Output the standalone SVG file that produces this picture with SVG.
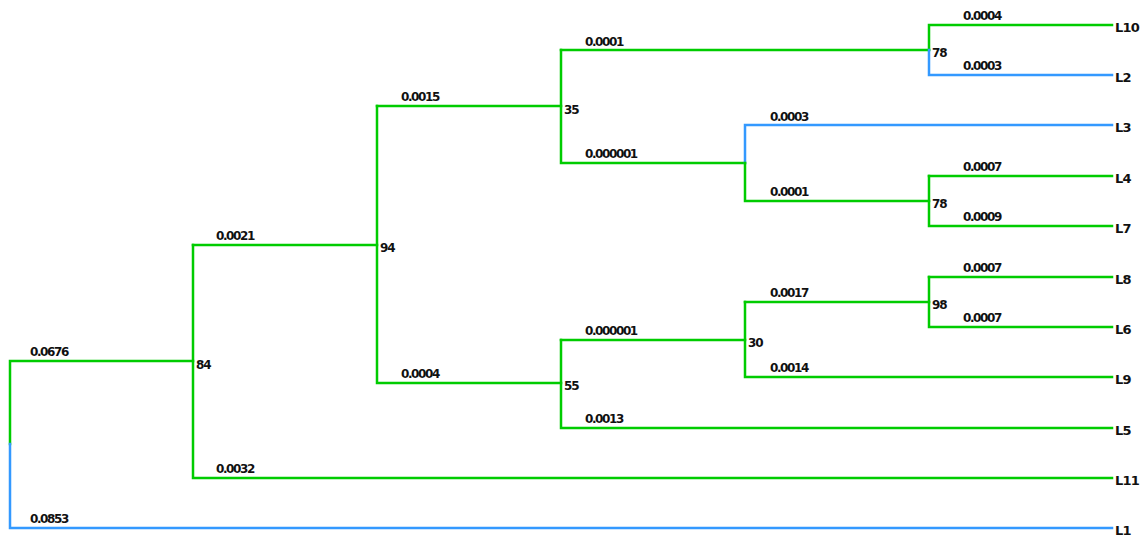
<svg xmlns="http://www.w3.org/2000/svg" width="1144" height="538" viewBox="0 0 1144 538">
<style>
.g{stroke:#00cc00;stroke-width:2.5;fill:none;stroke-linecap:square}
.b{stroke:#3399ff;stroke-width:2.5;fill:none;stroke-linecap:square}
text{font-family:"DejaVu Sans",sans-serif;font-weight:bold;fill:#111}
.bl{font-size:12px;letter-spacing:-1.4px}
.sp{font-size:12px;letter-spacing:-1px}
.lf{font-size:13px;letter-spacing:-0.8px}
</style>
<rect width="1144" height="538" fill="#fff"/>
<g id="connectors">
<!-- root -->
<path class="g" d="M10,444 V361 H193"/>
<path class="b" d="M10,444 V528 H1112"/>
<!-- node 84 -->
<path class="g" d="M193,245 V478 H1112"/>
<path class="g" d="M193,245 H377"/>
<!-- node 94 -->
<path class="g" d="M377,106 V383 H561"/>
<path class="g" d="M377,106 H561"/>
<!-- node 35 -->
<path class="g" d="M561,50 V163 H745"/>
<path class="g" d="M561,50 H929"/>
<!-- node 78 top -->
<path class="g" d="M929,50 V25 H1112"/>
<path class="b" d="M929,50 V75 H1112"/>
<!-- node L3/78 -->
<path class="b" d="M745,163 V125 H1112"/>
<path class="g" d="M745,163 V201 H929"/>
<!-- node 78 lower -->
<path class="g" d="M929,176 V226 H1112"/>
<path class="g" d="M929,176 H1112"/>
<!-- node 55 -->
<path class="g" d="M561,340 V428 H1112"/>
<path class="g" d="M561,340 H745"/>
<!-- node 30 -->
<path class="g" d="M745,302 V377 H1112"/>
<path class="g" d="M745,302 H929"/>
<!-- node 98 -->
<path class="g" d="M929,277 V327 H1112"/>
<path class="g" d="M929,277 H1112"/>
</g>
<g id="branch-labels">
<text class="bl" x="30" y="356">0.0676</text>
<text class="bl" x="30" y="523">0.0853</text>
<text class="bl" x="216" y="240">0.0021</text>
<text class="bl" x="216" y="473">0.0032</text>
<text class="bl" x="401" y="101">0.0015</text>
<text class="bl" x="401" y="378">0.0004</text>
<text class="bl" x="585" y="46">0.0001</text>
<text class="bl" x="585" y="158">0.000001</text>
<text class="bl" x="585" y="335">0.000001</text>
<text class="bl" x="585" y="423">0.0013</text>
<text class="bl" x="770" y="121">0.0003</text>
<text class="bl" x="770" y="196">0.0001</text>
<text class="bl" x="770" y="297">0.0017</text>
<text class="bl" x="770" y="372">0.0014</text>
<text class="bl" x="963" y="20">0.0004</text>
<text class="bl" x="963" y="70">0.0003</text>
<text class="bl" x="963" y="171">0.0007</text>
<text class="bl" x="963" y="221">0.0009</text>
<text class="bl" x="963" y="272">0.0007</text>
<text class="bl" x="963" y="322">0.0007</text>
</g>
<g id="n84"><text class="sp" x="196" y="369">84</text></g>
<g id="n94"><text class="sp" x="380" y="252">94</text></g>
<g id="n35"><text class="sp" x="564" y="114">35</text></g>
<g id="n55"><text class="sp" x="564" y="390">55</text></g>
<g id="n30"><text class="sp" x="748" y="347">30</text></g>
<g id="n78a"><text class="sp" x="932" y="57">78</text></g>
<g id="n78b"><text class="sp" x="932" y="208">78</text></g>
<g id="n98"><text class="sp" x="932" y="309">98</text></g>
<g id="L10"><text class="lf" x="1115" y="32">L10</text></g>
<g id="L2"><text class="lf" x="1115" y="82">L2</text></g>
<g id="L3"><text class="lf" x="1115" y="132">L3</text></g>
<g id="L4"><text class="lf" x="1115" y="183">L4</text></g>
<g id="L7"><text class="lf" x="1115" y="233">L7</text></g>
<g id="L8"><text class="lf" x="1115" y="284">L8</text></g>
<g id="L6"><text class="lf" x="1115" y="334">L6</text></g>
<g id="L9"><text class="lf" x="1115" y="384">L9</text></g>
<g id="L5"><text class="lf" x="1115" y="435">L5</text></g>
<g id="L11"><text class="lf" x="1115" y="485">L11</text></g>
<g id="L1"><text class="lf" x="1115" y="535">L1</text></g>
</svg>
